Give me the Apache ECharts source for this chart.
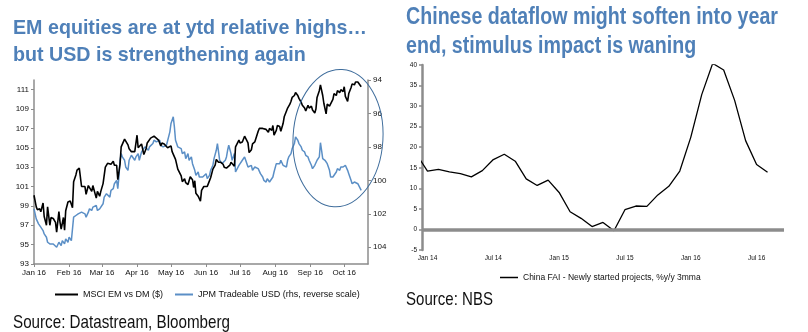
<!DOCTYPE html>
<html><head><meta charset="utf-8">
<script src="https://cdn.jsdelivr.net/npm/echarts@6/dist/echarts.min.js"></script>
<style>html,body{margin:0;padding:0;background:#fff}#c{width:808px;height:332px}</style>
</head><body><div id="c"></div>
<script>
// ---- Left chart: MSCI EM vs DM ($) and JPM Tradeable USD (days since 1 Jan 2016)
const monthLabels = ['Jan 16','Feb 16','Mar 16','Apr 16','May 16','Jun 16','Jul 16','Aug 16','Sep 16','Oct 16'];
const emDays = [
  0,2,3,5,6,8,9,11,12,14,
  15,17,18,19,20,22,23,24,26,27,
  28,30,32,33,34,35,37,38,40,42,
  43,45,46,48,49,51,52,53,55,56,
  58,59,61,63,65,68,70,71,73,74,
  76,77,80,83,84,86,89,91,92,95,
  97,99,100,103,106,108,110,112,113,115,
  118,121,122,125,127,128,130,131,133,134,
  136,138,140,141,142,143,145,146,147,148,
  150,151,153,154,156,158,160,161,163,165,
  167,168,170,171,173,174,175,177,178,179,
  181,182,184,186,187,189,190,192,193,195,
  196,198,199,202,205,207,208,210,211,212,
  214,215,217,218,220,221,223,224,226,227,
  228,230,231,233,234,236,237,239,240,242,
  243,245,246,248,249,250,252,253,255,256,
  258,259,261,262,264,265,267,268,270,271,
  273,274,275,277,278,280,281,283,284,286,
  287,289];
const emValues = [
  100.1,98.9,98.6,98.7,98.4,99.3,97.9,97.0,98.9,97.0,
  97.8,97.7,97.5,97.3,96.3,98.4,97.3,96.6,97.8,96.5,
  98.5,99.4,99.5,99.3,98.8,101.5,102.2,102.7,102.9,101.0,
  101.2,101.0,100.2,101.1,101.2,100.5,101.1,101.3,99.8,100.5,
  100.0,100.5,101.3,103.0,103.4,103.3,103.6,103.2,103.2,101.7,
  103.3,105.1,105.9,105.3,104.9,104.6,104.6,106.3,105.0,105.4,
  104.3,104.9,105.5,106.0,106.2,106.0,105.8,105.2,105.5,105.4,
  105.0,105.2,104.6,103.8,102.8,102.7,102.1,101.5,101.8,101.4,
  101.2,102.0,101.7,100.9,101.6,100.3,100.0,99.8,99.5,100.6,
  101.0,100.8,101.0,101.3,101.9,102.8,103.2,103.8,103.5,103.5,
  103.3,103.0,102.9,103.1,103.2,103.5,103.3,103.1,105.1,105.3,
  105.8,105.5,105.6,106.2,106.3,105.5,104.5,104.8,105.4,105.6,
  105.8,106.7,107.0,107.0,106.9,106.6,107.0,106.8,107.3,106.3,
  106.8,107.3,107.2,106.7,107.5,108.2,108.8,109.1,109.5,109.8,
  110.2,110.4,110.7,110.4,110.1,109.7,109.4,109.1,108.8,109.4,
  109.1,109.3,108.9,108.6,109.0,110.2,110.9,111.5,110.4,109.6,
  108.5,109.5,109.3,109.5,110.0,110.6,110.4,110.9,110.7,111.0,
  110.8,111.3,110.3,109.8,110.6,111.2,111.6,111.5,111.8,111.8,
  111.6,111.3];
const usdDays = [
  0,2,4,5,6,8,9,11,12,14,
  15,17,18,20,21,22,24,25,27,28,
  30,31,33,34,35,36,37,39,40,42,
  43,45,46,48,49,51,52,53,55,56,
  58,59,61,62,64,65,67,68,70,71,
  73,74,75,76,77,78,80,81,83,84,
  86,87,89,90,92,93,95,96,98,99,
  101,102,103,105,106,108,109,111,112,114,
  115,117,118,120,121,123,124,125,126,127,
  128,130,131,133,134,136,137,139,140,142,
  143,145,146,147,149,150,152,153,155,156,
  158,159,161,162,163,164,166,167,169,170,
  171,172,174,175,176,177,178,179,181,182,
  184,186,187,189,190,192,193,195,196,198,
  199,200,202,203,205,206,208,209,211,212,
  214,215,217,218,220,221,223,224,225,227,
  228,230,231,233,234,236,237,239,240,242,
  243,245,246,248,249,250,252,253,254,255,
  257,259,261,262,264,265,267,268,270,271,
  273,274,275,277,278,280,281,283,284,286,
  287,289];
const usdValues = [
  101.7,102.3,102.6,102.7,102.8,103.0,103.2,103.4,103.7,103.8,
  103.7,103.8,103.9,104.0,103.9,103.7,103.9,103.6,103.8,103.5,
  103.7,103.4,103.6,103.7,102.2,102.1,102.1,102.0,102.1,101.9,
  101.8,102.0,102.2,101.9,101.7,101.8,101.6,101.7,101.5,101.8,
  101.7,101.8,101.4,101.0,100.8,100.9,101.0,100.6,100.5,100.2,
  100.0,100.5,99.8,98.8,98.4,98.6,98.8,99.2,99.4,98.8,
  98.5,98.6,98.8,98.6,98.4,98.8,98.3,98.2,98.0,97.9,
  98.2,98.0,98.1,97.8,97.6,97.7,97.8,97.6,97.9,98.0,
  98.0,97.9,97.8,97.1,96.6,96.2,96.8,97.6,97.8,98.0,
  98.0,98.1,98.4,98.3,98.7,98.4,98.8,98.6,99.0,99.4,
  99.7,99.5,99.8,99.9,99.8,99.8,99.6,99.9,99.7,99.4,
  99.1,98.7,98.2,97.8,98.3,98.8,99.0,98.9,98.8,98.6,
  98.2,97.9,98.4,98.8,98.6,98.4,99.5,99.4,99.1,99.0,
  98.8,98.6,98.8,99.2,99.3,99.1,99.4,99.2,99.1,99.3,
  99.4,99.6,99.8,100.0,100.1,99.9,100.1,100.2,99.8,99.5,
  99.0,99.1,99.0,98.8,99.1,99.2,99.2,98.8,98.6,98.4,
  98.1,97.8,97.4,97.6,97.8,98.0,98.2,98.3,98.5,98.6,
  98.8,99.1,99.3,99.1,99.0,98.8,98.6,97.75,98.2,98.7,
  98.8,99.0,99.4,99.8,99.8,99.8,99.5,99.3,99.4,99.2,
  99.2,99.3,99.1,99.4,99.6,100.0,100.2,100.1,100.2,100.2,
  100.3,100.6];
const leftTicks = [93,95,97,99,101,103,105,107,109,111];
const rightTicks = [94,96,98,100,102,104];

// ---- Right chart: China FAI - newly started projects, %y/y 3mma (monthly)
const faiMonths = ['Dec 13',
  'Jan 14','Feb 14','Mar 14','Apr 14','May 14','Jun 14','Jul 14','Aug 14','Sep 14','Oct 14','Nov 14','Dec 14',
  'Jan 15','Feb 15','Mar 15','Apr 15','May 15','Jun 15','Jul 15','Aug 15','Sep 15','Oct 15','Nov 15','Dec 15',
  'Jan 16','Feb 16','Mar 16','Apr 16','May 16','Jun 16','Jul 16','Aug 16'];
const faiValues = [18.3,
  14.2,14.6,14.0,13.6,12.8,14.3,17.0,18.3,16.6,12.3,10.7,12.0,
  9.0,4.3,2.7,0.7,1.7,-0.3,4.8,5.7,5.6,8.4,10.5,14.2,
  22.4,32.8,40.4,38.8,31.4,21.6,15.8,13.9];
const faiTickLabels = ['Jan 14','Jul 14','Jan 15','Jul 15','Jan 16','Jul 16'];

// ---- texts
const leftTitle = ['EM equities are at ytd relative highs\u2026', 'but USD is strengthening again'];
const rightTitle = ['Chinese dataflow might soften into year', 'end, stimulus impact is waning'];
const leftSource = 'Source: Datastream, Bloomberg';
const rightSource = 'Source: NBS';

// ---- derived
const DAY = 86400000;
const monthStarts = monthLabels.map((_, m) => (Date.UTC(2016, m, 1) - Date.UTC(2016, 0, 1)) / DAY);
const faiX = faiMonths.map((_, i) => i - 1); // Jan 14 = 0
const faiTickX = faiTickLabels.map(l => faiX[faiMonths.indexOf(l)]);

const ARIAL = "'Liberation Sans',Arial,sans-serif";
const BLUE_T = '#4f80b8';
const GRAY = '#8c8c8c';

// condensed text (emulates Arial Narrow) : scale horizontally to a target width
const mctx = document.createElement('canvas').getContext('2d');
function measure(text, font) { mctx.font = font; return mctx.measureText(text).width; }
function narrowText(text, x, baseline, size, weight, fill, targetWidth) {
  const font = weight + ' ' + size + 'px ' + ARIAL;
  const sx = targetWidth / measure(text, font);
  return {type: 'text', x: x, y: baseline + size * 0.212, scaleX: sx, silent: true,
          style: {text: text, font: font, fill: fill, align: 'left', verticalAlign: 'bottom'}, z: 50};
}
const LT = 21, RT = 23;
const lt1 = measure(leftTitle[0], 'bold ' + LT + 'px ' + ARIAL);
const rt1 = measure(rightTitle[0], 'bold ' + RT + 'px ' + ARIAL);
const ls = 354 / lt1, rs = 372 / rt1;
const texts = [
  narrowText(leftTitle[0], 13, 34, LT, 'bold', BLUE_T, lt1 * ls),
  narrowText(leftTitle[1], 13, 61, LT, 'bold', BLUE_T, measure(leftTitle[1], 'bold ' + LT + 'px ' + ARIAL) * ls),
  narrowText(rightTitle[0], 406, 24, RT, 'bold', BLUE_T, rt1 * rs),
  narrowText(rightTitle[1], 406, 53, RT, 'bold', BLUE_T, measure(rightTitle[1], 'bold ' + RT + 'px ' + ARIAL) * rs),
  narrowText(leftSource, 13, 328, 19, 'normal', '#111', 217),
  narrowText(rightSource, 406, 305, 19, 'normal', '#111', 87)
];

const chart = echarts.init(document.getElementById('c'), null, {renderer: 'canvas'});
chart.setOption({
  animation: false,
  backgroundColor: '#fff',
  legend: [
    {data: ['MSCI EM vs DM ($)'], left: 50, top: 285,
     icon: 'rect', itemWidth: 23, itemHeight: 2,
     textStyle: {fontFamily: ARIAL, fontSize: 9, color: '#111'}},
    {data: ['JPM Tradeable USD (rhs, reverse scale)'], left: 170, top: 285,
     icon: 'rect', itemWidth: 18, itemHeight: 2,
     textStyle: {fontFamily: ARIAL, fontSize: 9, color: '#111'}},
    {data: ['China FAI - Newly started projects, %y/y 3mma'], left: 495, top: 268,
     icon: 'rect', itemWidth: 18, itemHeight: 1.5,
     textStyle: {fontFamily: ARIAL, fontSize: 8.5, color: '#111'}}
  ],
  grid: [
    {left: 34, top: 80, width: 334, height: 184},
    {left: 422, top: 65, width: 362, height: 185}
  ],
  xAxis: [
    {type: 'value', gridIndex: 0, min: 0, max: 295,
     axisLine: {onZero: false, lineStyle: {color: GRAY, width: 1.5}},
     axisTick: {customValues: monthStarts, length: 3, lineStyle: {color: GRAY}},
     axisLabel: {customValues: monthStarts, formatter: v => monthLabels[monthStarts.indexOf(v)],
                 fontFamily: ARIAL, fontSize: 8, color: '#111', margin: 5},
     splitLine: {show: false}},
    {type: 'value', gridIndex: 1, min: -0.5, max: 32.5,
     axisLine: {show: false, onZero: false},
     axisTick: {show: false},
     axisLabel: {customValues: faiTickX, formatter: v => faiTickLabels[faiTickX.indexOf(v)],
                 fontFamily: ARIAL, fontSize: 6.5, color: '#111', margin: 5},
     splitLine: {show: false}}
  ],
  yAxis: [
    {type: 'value', gridIndex: 0, position: 'left', min: 93, max: 112,
     axisLine: {show: true, onZero: false, lineStyle: {color: GRAY, width: 1.5}},
     axisTick: {show: true, customValues: leftTicks, length: 3, lineStyle: {color: GRAY}},
     axisLabel: {customValues: leftTicks, fontFamily: ARIAL, fontSize: 8, color: '#111', margin: 5},
     splitLine: {show: false}},
    {type: 'value', gridIndex: 0, position: 'right', min: 94, max: 105, inverse: true,
     axisLine: {show: true, onZero: false, lineStyle: {color: GRAY, width: 1.5}},
     axisTick: {show: true, customValues: rightTicks, length: 3, lineStyle: {color: GRAY}},
     axisLabel: {customValues: rightTicks, fontFamily: ARIAL, fontSize: 8, color: '#111', margin: 5},
     splitLine: {show: false}},
    {type: 'value', gridIndex: 1, min: -5, max: 40, interval: 5,
     axisLine: {show: true, onZero: false, lineStyle: {color: GRAY, width: 2.5}},
     axisTick: {show: true, length: 3, lineStyle: {color: GRAY, width: 1.5}},
     axisLabel: {fontFamily: ARIAL, fontSize: 6.5, color: '#111', margin: 5},
     splitLine: {show: false}}
  ],
  series: [
    {name: 'JPM Tradeable USD (rhs, reverse scale)', type: 'line', xAxisIndex: 0, yAxisIndex: 1,
     data: usdDays.map((d, i) => [d, usdValues[i]]), showSymbol: false, z: 2,
     itemStyle: {color: '#5b8fc6'}, lineStyle: {color: '#5b8fc6', width: 1.5}},
    {name: 'MSCI EM vs DM ($)', type: 'line', xAxisIndex: 0, yAxisIndex: 0,
     data: emDays.map((d, i) => [d, emValues[i]]), showSymbol: false, z: 3,
     itemStyle: {color: '#000'}, lineStyle: {color: '#000', width: 1.6}},
    {name: 'China FAI - Newly started projects, %y/y 3mma', type: 'line', xAxisIndex: 1, yAxisIndex: 2,
     data: faiX.map((x, i) => [x, faiValues[i]]), showSymbol: false, z: 3,
     itemStyle: {color: '#000'}, lineStyle: {color: '#000', width: 1.3},
     markLine: {silent: true, symbol: 'none', label: {show: false}, animation: false,
                lineStyle: {color: GRAY, width: 3.5, type: 'solid'}, data: [{yAxis: 0}]}}
  ],
  graphic: texts
});

// highlight ellipse around the latest weeks, anchored in data coordinates
const c0 = chart.convertToPixel({xAxisIndex: 0, yAxisIndex: 0}, [268.5, 106.0]);
const e1 = chart.convertToPixel({xAxisIndex: 0, yAxisIndex: 0}, [308.2, 98.9]);
chart.setOption({graphic: texts.concat([
  {type: 'ellipse', shape: {cx: 0, cy: 0, rx: e1[0] - c0[0], ry: e1[1] - c0[1]}, x: c0[0], y: c0[1], rotation: -0.06,
   style: {fill: 'none', stroke: '#3f6d9c', lineWidth: 1}, z: 100}
])});
</script></body></html>
